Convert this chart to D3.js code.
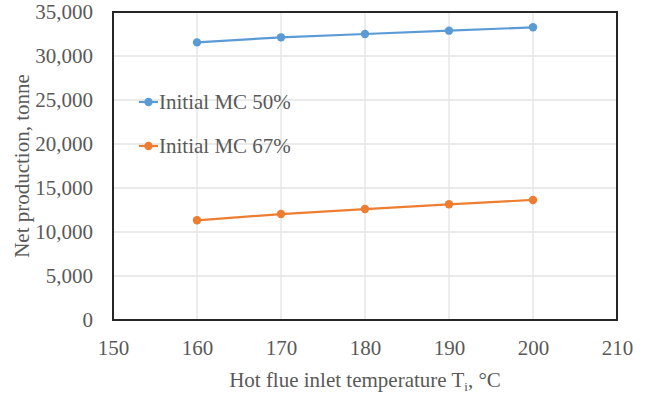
<!DOCTYPE html>
<html>
<head>
<meta charset="utf-8">
<script src="https://cdn.jsdelivr.net/npm/d3@7"></script>
<style>
  body { margin: 0; background: #fff; }
  text { font-family: "Liberation Serif", "Times New Roman", serif; fill: #595959; }
</style>
</head>
<body>
<div id="graf"></div>
<script>
const temps = [160, 170, 180, 190, 200]
const mc50 = [31550, 32120, 32500, 32880, 33260]
const mc67 = [11330, 12040, 12610, 13150, 13640]
const xTicks = [150, 160, 170, 180, 190, 200, 210]
const yTicks = [0, 5000, 10000, 15000, 20000, 25000, 30000, 35000]
const seriesNames = ['Initial MC 50%', 'Initial MC 67%']

const ancho = 647
const alto = 393
const margins = { left: 113, top: 12, right: 30, bottom: 73 }
const fs = '21px'

const svg = d3.select('#graf')
  .append('svg')
  .attr('width', ancho)
  .attr('height', alto)

const x = d3.scaleLinear().domain([150, 210]).range([margins.left, ancho - margins.right])
const y = d3.scaleLinear().domain([0, 35000]).range([alto - margins.bottom, margins.top])

// gridlines
svg.append('g')
  .selectAll('line')
  .data(xTicks)
  .enter()
  .append('line')
  .attr('x1', d => x(d)).attr('x2', d => x(d))
  .attr('y1', y(0)).attr('y2', y(35000))
  .attr('stroke', '#e4e4e4').attr('stroke-width', 1.3)

svg.append('g')
  .selectAll('line')
  .data(yTicks)
  .enter()
  .append('line')
  .attr('x1', x(150)).attr('x2', x(210))
  .attr('y1', d => y(d)).attr('y2', d => y(d))
  .attr('stroke', '#e4e4e4').attr('stroke-width', 1.3)

// frame
svg.append('rect')
  .attr('x', x(150))
  .attr('y', y(35000))
  .attr('width', x(210) - x(150))
  .attr('height', y(0) - y(35000))
  .attr('fill', 'none')
  .attr('stroke', '#262626')
  .attr('stroke-width', 2)

// axes
const fmt = d3.format(',')
const xAxis = d3.axisBottom(x).tickValues(xTicks).tickSize(0).tickPadding(20)
const yAxis = d3.axisLeft(y).tickValues(yTicks).tickSize(0).tickPadding(20).tickFormat(d => fmt(d))

svg.append('g')
  .attr('transform', `translate(0, ${y(0)})`)
  .call(xAxis)
  .call(g => g.select('.domain').remove())
  .selectAll('text')
  .attr('font-size', fs)
  .style('fill', '#595959')

svg.append('g')
  .attr('transform', `translate(${x(150)}, 0)`)
  .call(yAxis)
  .call(g => g.select('.domain').remove())
  .selectAll('text')
  .attr('font-size', fs)
  .style('fill', '#595959')

// series
const colors = ['#5B9BD5', '#ED7D31']
const series = [mc50, mc67]
const line = d3.line().x((d, i) => x(temps[i])).y(d => y(d))

series.forEach((vals, k) => {
  svg.append('path')
    .datum(vals)
    .attr('d', line)
    .attr('fill', 'none')
    .attr('stroke', colors[k])
    .attr('stroke-width', 2.2)

  svg.append('g')
    .selectAll('circle')
    .data(vals)
    .enter()
    .append('circle')
    .attr('cx', (d, i) => x(temps[i]))
    .attr('cy', d => y(d))
    .attr('r', 4.2)
    .attr('fill', colors[k])
})

// legend
const legend = svg.append('g')
seriesNames.forEach((name, k) => {
  const ly = 102 + k * 44
  legend.append('line')
    .attr('x1', 139).attr('x2', 158)
    .attr('y1', ly).attr('y2', ly)
    .attr('stroke', colors[k]).attr('stroke-width', 2.2)
  legend.append('circle')
    .attr('cx', 148.5).attr('cy', ly).attr('r', 4.2)
    .attr('fill', colors[k])
  legend.append('text')
    .attr('x', 159).attr('y', ly + 7)
    .attr('font-size', fs)
    .text(name)
})

// axis titles
const xt = svg.append('text')
  .attr('x', (x(150) + x(210)) / 2)
  .attr('y', 387)
  .attr('text-anchor', 'middle')
  .attr('font-size', fs)
xt.append('tspan').text('Hot flue inlet temperature T')
xt.append('tspan').attr('font-size', '13px').attr('dy', 4).text('i')
xt.append('tspan').attr('dy', -4).text(', °C')

svg.append('text')
  .attr('transform', `translate(29, ${(y(0) + y(35000)) / 2}) rotate(-90)`)
  .attr('text-anchor', 'middle')
  .attr('font-size', fs)
  .text('Net production, tonne')
</script>
</body>
</html>
